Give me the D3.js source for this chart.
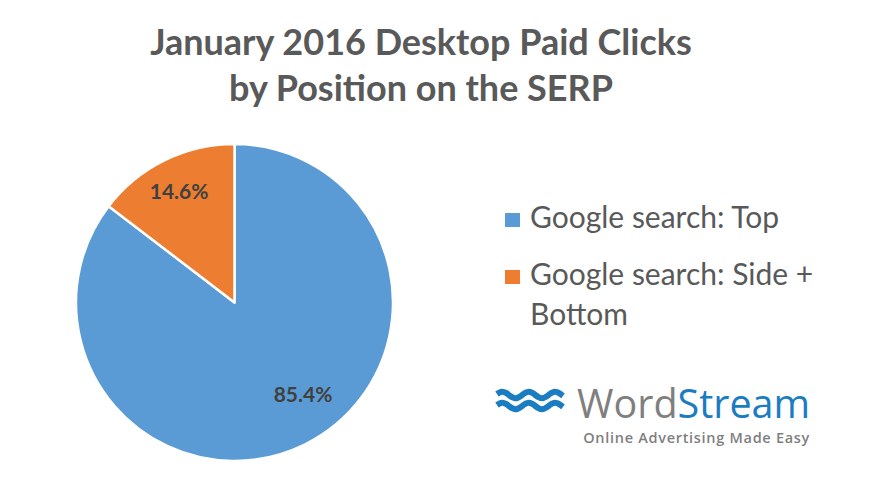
<!DOCTYPE html>
<html><head><meta charset="utf-8">
<script src="https://cdn.jsdelivr.net/npm/d3@7"></script>
<style>body{margin:0;background:#fff}svg{display:block}</style>
</head><body>
<svg id="c" width="870" height="502"></svg>
<script>
const titleLines = ["January 2016 Desktop Paid Clicks", "by Position on the SERP"];
const categories = ["Google search: Top", "Google search: Side + Bottom"];
const values = [85.4, 14.6];
const labels = ["85.4%", "14.6%"];
const colors = ["#5b9bd5", "#ed7d31"];

const svg = d3.select("#c");
const font = "Lato, Carlito, 'Open Sans', sans-serif";

svg.selectAll("text.title").data(titleLines).join("text")
  .attr("class","title")
  .attr("x", 421).attr("y", (d,i)=> 55 + i*46)
  .attr("text-anchor","middle")
  .attr("font-family", font).attr("font-weight","bold")
  .attr("font-size", 36).attr("fill","#595959")
  .text(d=>d);

const cx = 234.5, cy = 302.5, r = 158.5;
const data = categories.map((c,i)=>({c, v: values[i], label: labels[i], color: colors[i]}));
const pie = d3.pie().value(d=>d.v).sort(null);
const arc = d3.arc().innerRadius(0).outerRadius(r);
const g = svg.append("g").attr("transform", `translate(${cx},${cy})`);
const arcs = pie(data);
g.selectAll("path").data(arcs).join("path")
  .attr("d", arc).attr("fill", d=>d.data.color)
  .attr("stroke","#fff").attr("stroke-width",2.5).attr("stroke-linejoin","round");

// label placement (radius fraction, angle shift in radians)
const labelPlace = [{f:0.725, da:-0.18}, {f:0.78, da:-0.006}];
g.selectAll("text").data(arcs).join("text")
  .attr("transform", (d,i)=>{
    const a = (d.startAngle + d.endAngle)/2 + labelPlace[i].da;
    const rr = r*labelPlace[i].f;
    return `translate(${rr*Math.sin(a)},${-rr*Math.cos(a)})`;
  })
  .attr("text-anchor","middle").attr("dy","0.35em")
  .attr("font-family", font).attr("font-weight","bold")
  .attr("font-size", 21).attr("fill","#404040")
  .text(d=>d.data.label);

// legend
const legendLines = [["Google search: Top"], ["Google search: Side +", "Bottom"]];
const lg = svg.append("g");
const ly = [228, 285];
legendLines.forEach((lines,i)=>{
  lg.append("rect").attr("x", 505).attr("y", ly[i]-15).attr("width",15).attr("height",14).attr("fill", colors[i]);
  lines.forEach((t,j)=>{
    lg.append("text").attr("x", 530).attr("y", ly[i] + j*40)
      .attr("font-family", font).attr("font-size", 30).attr("fill","#595959").text(t);
  });
});

// logo
const logo = svg.append("g");
const wave = (y0)=>{
  const pts = d3.range(0, 67, 1).map(x=>[497+x, y0 - 3.2*Math.sin((x/66)*2.5*2*Math.PI + 0.3)]);
  return d3.line().curve(d3.curveBasis)(pts);
};
[395, 406].forEach(y=>{
  logo.append("path").attr("d", wave(y)).attr("fill","none").attr("stroke","#1a7cc1").attr("stroke-width",6);
});
const ws = logo.append("text").attr("x", 577).attr("y", 418)
  .attr("font-family", "'Open Sans', sans-serif").attr("font-size", 39.5);
ws.append("tspan").attr("fill","#7f7f7f").text("Word");
ws.append("tspan").attr("fill","#1a7cc1").text("Stream");
logo.append("text").attr("x", 810).attr("y", 443).attr("text-anchor","end")
  .attr("font-family", "'Open Sans', sans-serif").attr("font-weight","600").attr("font-size", 14.5)
  .attr("fill","#7f7f7f").attr("letter-spacing", 0.7).text("Online Advertising Made Easy");
</script>
</body></html>
